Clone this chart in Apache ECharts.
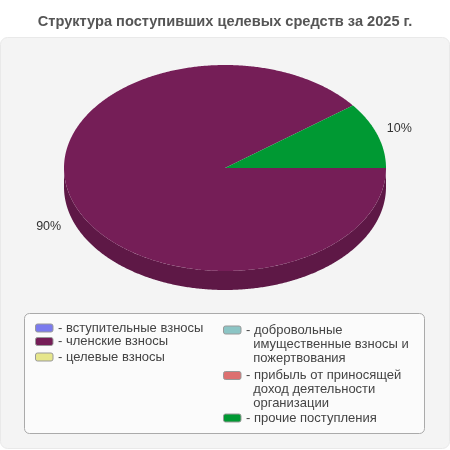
<!DOCTYPE html>
<html><head><meta charset="utf-8">
<style>html,body{margin:0;padding:0;background:#fff}#c{width:450px;height:450px}</style>
<script src="https://cdn.jsdelivr.net/npm/echarts@6/dist/echarts.min.js"></script>
</head><body><div id="c"></div>
<script>
const titleText = 'Структура поступивших целевых средств за 2025 г.';
const categories = ['вступительные взносы','членские взносы','целевые взносы','добровольные\nимущественные взносы и\nпожертвования','прибыль от приносящей\nдоход деятельности\nорганизации','прочие поступления'];
const values = [0, 89.6, 0, 0, 0, 10.4];
const colors = ['#7b7bee','#751e57','#e6e68c','#8cc5c5','#dd7070','#009933'];
const wallColors = ['#5c5cb0','#5e1846','#aaaa66','#669090','#a05050','#007025'];
const legendLeft = [35,35,35,223,223,223];
const legendFirstLine = [328,341.5,357,330,375.5,418];

const CX=225, CY=168, RX=161, RY=103, DEPTH=19, LINE=14;
const total = values.reduce((a,b)=>a+b,0);
// the slices run counter-clockwise from 3 o'clock, last category first
const startOf = [];
let acc = 0;
for (let i=values.length-1;i>=0;i--){ startOf[i]=acc; acc+=values[i]/total*360; }

function pt(deg,dy){const a=deg*Math.PI/180;return [CX+RX*Math.cos(a),CY-RY*Math.sin(a)+(dy||0)];}
function arc(a0,a1,dy){const p=[];const n=Math.max(2,Math.ceil(Math.abs(a1-a0)*2));for(let k=0;k<=n;k++)p.push(pt(a0+(a1-a0)*k/n,dy));return p;}

function makeRender(i){
  return function(params,api){
    const v=api.value(0);
    if(!v) return {type:'group',children:[]};
    const a0=startOf[i], a1=a0+v/total*360, mid=(a0+a1)/2;
    const children=[];
    const w0=Math.max(a0,180), w1=Math.min(a1,360);
    if(w1>w0){
      children.push({type:'polygon',shape:{points:arc(w0,w1,0).concat(arc(w1,w0,DEPTH))},style:{fill:wallColors[i]},silent:true});
    }
    children.push({type:'polygon',shape:{points:[[CX,CY]].concat(arc(a0,a1,0))},style:{fill:colors[i]},silent:true});
    const a=mid*Math.PI/180, sy=Math.sin(a);
    children.push({type:'text',style:{text:Math.round(v/total*100)+'%',x:CX-1+RX*1.15*Math.cos(a),y:CY+1-RY*1.23*sy+(sy<0?DEPTH-2:0),
      align:'center',verticalAlign:'middle',fill:'#333',font:'12.5px "Liberation Sans"'},silent:true});
    return {type:'group',children};
  };
}

const series = categories.map((c,i)=>({
  name:c,type:'custom',coordinateSystem:'none',renderItem:makeRender(i),data:[[values[i]]],
  itemStyle:{color:colors[i]},animation:false,silent:true
}));
const legends = categories.map((c,i)=>{
  const lines=c.split('\n').length;
  return {
    data:[c],left:legendLeft[i],
    // blank leading lines keep the swatch level with the first text line
    top:legendFirstLine[i]-LINE/2-(lines-1)*LINE,
    padding:0,orient:'vertical',
    icon:'roundRect',itemWidth:17.5,itemHeight:8,itemGap:0,selectedMode:false,
    itemStyle:{borderColor:'#999',borderWidth:1},
    formatter:(n)=>{const p=n.split('\n');return '\n'.repeat(lines-1)+'- '+p[0]+(p.length>1?'\n  '+p.slice(1).join('\n  '):'');},
    textStyle:{fontFamily:'Liberation Sans',fontSize:13,color:'#444',lineHeight:LINE}
  };
});
const chart=echarts.init(document.getElementById('c'),null,{renderer:'canvas'});
chart.setOption({
  animation:false,
  title:{text:titleText,left:'center',top:14,itemGap:0,padding:0,textStyle:{fontFamily:'Liberation Sans',fontSize:14.6,fontWeight:'bold',color:'#555'}},
  legend:legends,
  graphic:[
    {type:'rect',z:-10,silent:true,shape:{x:0.5,y:37.5,width:449,height:411,r:7},style:{fill:'#f4f4f4',stroke:'#e9e9e9',lineWidth:1}},
    {type:'rect',z:-9,silent:true,shape:{x:24.5,y:313.5,width:400,height:120,r:5},style:{fill:'#fbfbfb',stroke:'#aaaaaa',lineWidth:1}}
  ],
  series
});
</script></body></html>
